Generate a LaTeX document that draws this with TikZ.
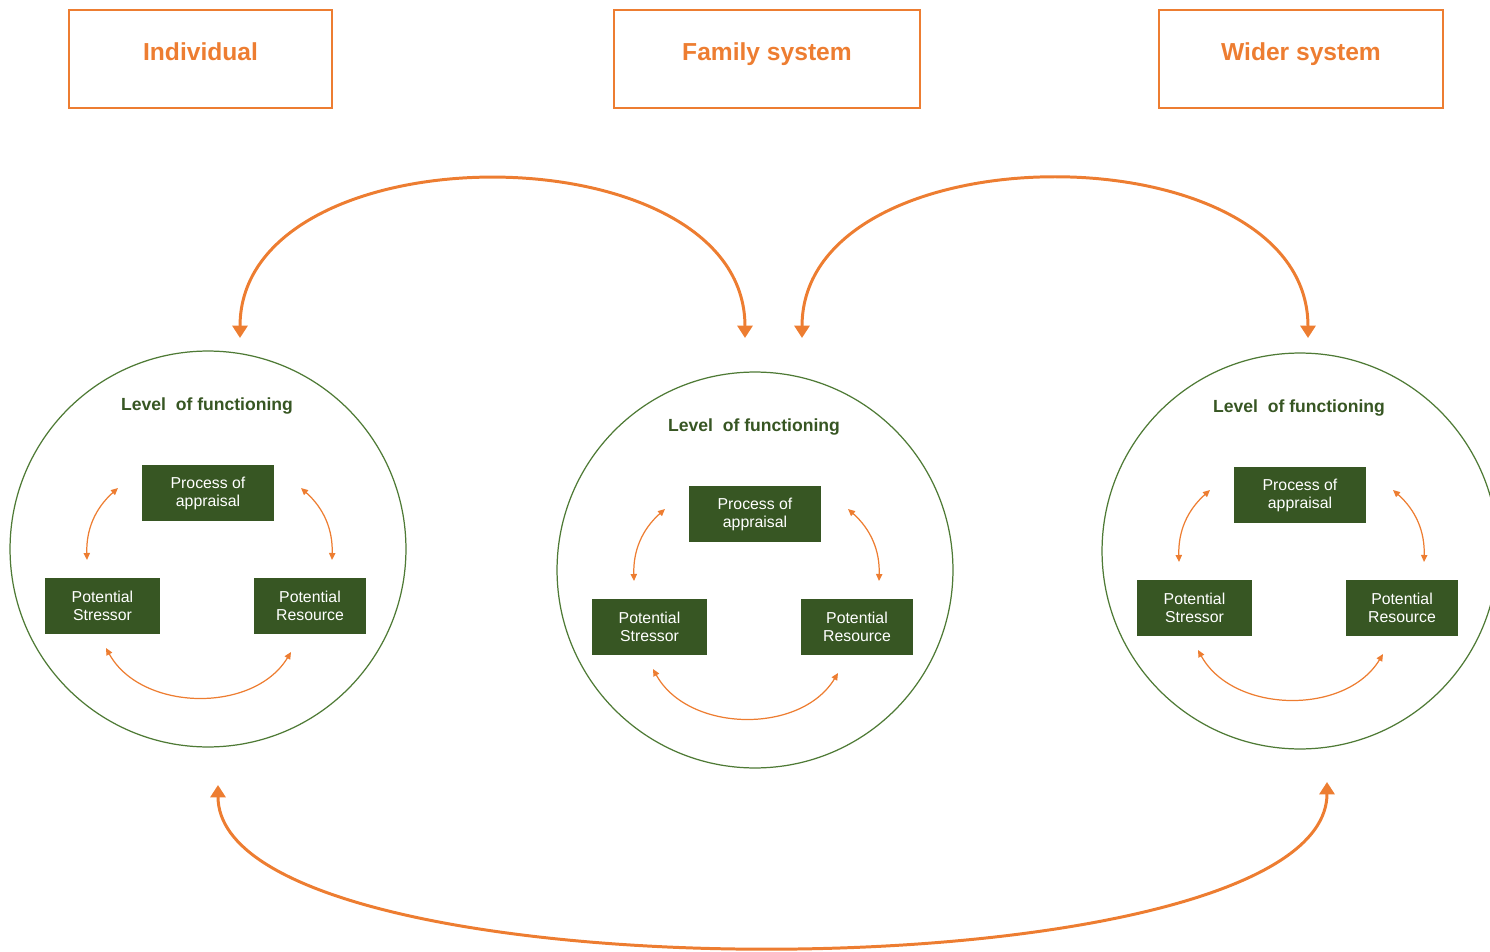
\documentclass[tikz,border=0pt]{standalone}
\usepackage{fontspec}
\setmainfont{Liberation Sans}
\usetikzlibrary{arrows.meta,positioning}
\definecolor{ochre}{HTML}{ED7D31}
\definecolor{leaf}{HTML}{375623}
\definecolor{ring}{HTML}{4E7A35}

\begin{document}
\begin{tikzpicture}[x=0.02cm,y=-0.02cm,
  sys box/.style={draw=ochre,line width=1.1pt,minimum height=1.96cm,text depth=0.28cm,text=ochre,font=\fontsize{14}{16}\selectfont\bfseries},
  ring node/.style={circle,draw=ring,line width=0.7pt,minimum size=7.92cm,inner sep=0pt},
  green node/.style={fill=leaf,text=white,minimum height=1.12cm,align=center,inner sep=1pt,font=\fontsize{9}{10.2}\selectfont},
  small arrow/.style={draw=ochre,line width=0.7pt,{Triangle[length=4pt,width=3.6pt]}-{Triangle[length=4pt,width=3.6pt]}},
  big arrow/.style={draw=ochre,line width=1.7pt,{Triangle[length=7pt,width=8.5pt]}-{Triangle[length=7pt,width=8.5pt]}}]
  \useasboundingbox (0,0) rectangle (1490,952);

  % the three levels
  \node[sys box,minimum width=5.26cm] (indiv) at (200.5,59) {Individual};
  \node[sys box,minimum width=6.12cm] (family) at (767,59) {Family system};
  \node[sys box,minimum width=5.68cm] (wider) at (1301,59) {Wider system};

  % one circle per level
  \foreach \n/\dx/\dy in {a/0/0,b/547/21,c/1092/2}{
    \begin{scope}[shift={(\dx,\dy)}]
      \node[ring node] (ring\n) at (208,549) {};
      \node[text=leaf,font=\fontsize{10}{12}\selectfont\bfseries] (level\n) at (207,406) {Level\ \ of functioning};
      \node[green node,minimum width=2.64cm] (proc\n) at (208,493) {Process of\\appraisal};
      \node[green node,minimum width=2.3cm] (stress\n) at (102.5,606) {Potential\\Stressor};
      \node[green node,minimum width=2.24cm] (res\n) at (310,606) {Potential\\Resource};
      \coordinate (pl\n) at (118,488);
      \coordinate (sl\n) at (87,560);
      \coordinate (pr\n) at (301,488);
      \coordinate (rr\n) at (332,560);
      \coordinate (sb\n) at (106,648);
      \coordinate (rb\n) at (291,652);
      \draw[small arrow] (pl\n) to[bend right=25] (sl\n);
      \draw[small arrow] (pr\n) to[bend left=25] (rr\n);
      \draw[small arrow] (sb\n) to[bend right=60] (rb\n);
    \end{scope}
  }

  % links between the levels
  \coordinate (ta) at (240,338);
  \coordinate (tb) at (745,338);
  \coordinate (tc) at (802,338);
  \coordinate (td) at (1308,338);
  \coordinate (ba) at (218,785);
  \coordinate (bc) at (1327,782);
  \draw[big arrow] (ta) to[out=90,in=90,looseness=1.07] (tb);
  \draw[big arrow] (tc) to[out=90,in=90,looseness=1.07] (td);
  \draw[big arrow] (ba) to[out=-90,in=-90,looseness=0.5] (bc);
\end{tikzpicture}
\end{document}
